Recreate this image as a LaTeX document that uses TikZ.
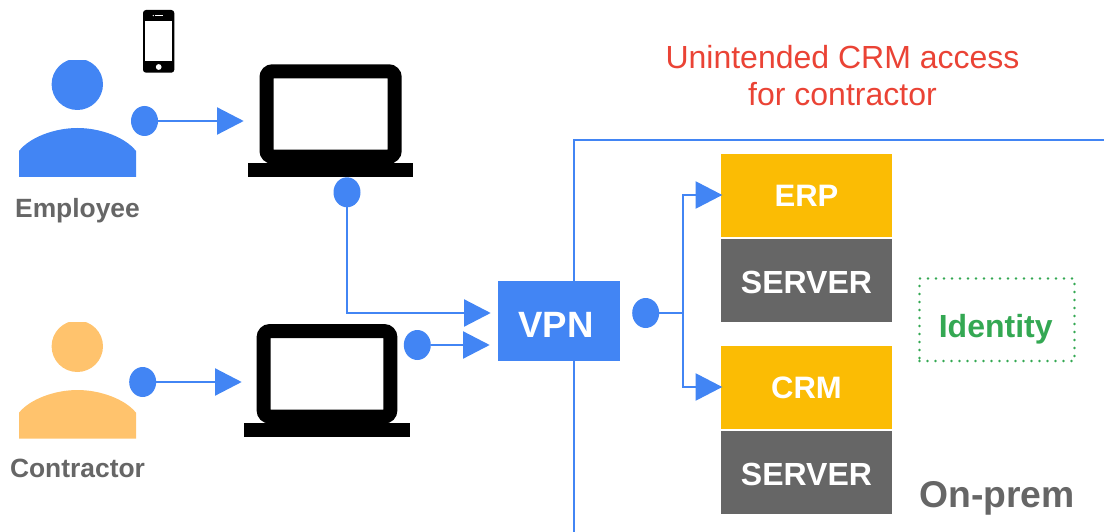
\documentclass[tikz,border=0pt]{standalone}
\usepackage{fontspec}
\setmainfont{Liberation Sans}
\usetikzlibrary{arrows.meta,shapes.geometric}
\definecolor{vpnblue}{HTML}{4285F4}
\definecolor{softorange}{HTML}{FFC36D}
\definecolor{appyellow}{HTML}{FBBC04}
\definecolor{servergray}{HTML}{666666}
\definecolor{alertred}{HTML}{EA4335}
\definecolor{idgreen}{HTML}{34A853}

\begin{document}
\begin{tikzpicture}[
        x=1pt,y=-1pt,
        dot/.style={ellipse,fill=vpnblue,minimum width=27pt,minimum height=30pt,inner sep=0pt},
        link/.style={draw=vpnblue,line width=2pt,-{Triangle[length=26.6pt,width=27pt,fill=vpnblue]}},
        screen/.style={draw=black,line width=14pt,rounded corners=6pt,inner sep=0pt,anchor=center},
        stand/.style={fill=black,inner sep=0pt,minimum height=14pt},
        app/.style={fill=appyellow,minimum width=171pt,minimum height=83pt,inner sep=0pt},
        server/.style={fill=servergray,minimum width=171pt,minimum height=83pt,inner sep=0pt},
        boxtext/.style={text=white,font=\fontsize{32}{32}\selectfont\bfseries,inner sep=0pt},
        who/.style={text=servergray,font=\fontsize{26.4}{26.4}\selectfont\bfseries,inner sep=0pt}
    ]
    \useasboundingbox (0,0) rectangle (1104,532);

    \draw[vpnblue,line width=2pt] (574.2,532) -- (574.2,140.3) -- (1104,140.3);

    \begin{scope}
        \clip (0,61) rectangle (160,180);
        \fill[vpnblue] (77.3,84.3) circle (25.7);
    \end{scope}
    \fill[vpnblue] (19,177) -- (19,151) .. controls (30,137) and (55,128) .. (77.5,128) .. controls (100,128) and (125,137) .. (136,151) -- (136,177) -- cycle;
    \node[who] (employee) at (77.5,211) {Employee};

    \begin{scope}
        \clip (0,322.7) rectangle (160,440);
        \fill[softorange] (77.3,346.3) circle (25.7);
    \end{scope}
    \fill[softorange] (19,438.7) -- (19,412.7) .. controls (30,399) and (55,390) .. (77.5,390) .. controls (100,390) and (125,399) .. (136,412.7) -- (136,438.7) -- cycle;
    \node[who] (contractor) at (77.5,468) {Contractor};

    \fill[black,rounded corners=3pt] (143,10) rectangle (174.3,72.7);
    \fill[white] (145.3,20.7) rectangle (172.4,61.3);
    \fill[white] (158.7,67) circle (2.9);
    \fill[white] (154.5,15) rectangle (162.5,16.3);
    \fill[white] (153.3,15.6) circle (0.7);

    \node[screen,minimum width=128.2pt,minimum height=85.4pt] (laptopa) at (330.6,114) {};
    \node[stand,minimum width=165pt] (standa) at (330.5,170.3) {};
    \node[screen,minimum width=126.6pt,minimum height=85.4pt] (laptopb) at (327,373.8) {};
    \node[stand,minimum width=166pt] (standb) at (327,430.3) {};

    \node[fill=vpnblue,minimum width=122pt,minimum height=79.7pt,inner sep=0pt] (vpn) at (559,320.8) {};
    \node[boxtext,font=\fontsize{36.6}{36.6}\selectfont\bfseries] (vpnlabel) at (556,325) {VPN};

    \node[app] (erp) at (806.5,195.5) {};
    \node[boxtext,font=\fontsize{31}{31}\selectfont\bfseries] (erplabel) at (806.5,195.5) {ERP};
    \node[server] (servera) at (806.5,280.5) {};
    \node[boxtext] (serveralabel) at (806.5,282.5) {SERVER};
    \node[app] (crm) at (806.5,387.5) {};
    \node[boxtext,font=\fontsize{31}{31}\selectfont\bfseries] (crmlabel) at (806.5,387.5) {CRM};
    \node[server] (serverb) at (806.5,472.5) {};
    \node[boxtext] (serverblabel) at (806.5,474) {SERVER};

    \node[draw=idgreen,line width=2.8pt,line cap=round,dash pattern=on 0pt off 8pt,minimum width=155pt,minimum height=82.5pt,inner sep=0pt] (identity) at (997,319.7) {};
    \node[text=idgreen,font=\fontsize{32}{32}\selectfont\bfseries,inner sep=0pt] (identitylabel) at (995.7,329) {Identity};
    \node[text=servergray,font=\fontsize{37.3}{37.3}\selectfont\bfseries,inner sep=0pt] (onprem) at (997,498) {On-prem};
    \node[text=alertred,font=\fontsize{32}{37}\selectfont,align=center,inner sep=0pt] (unintended) at (842.5,76) {Unintended CRM access\\for contractor};

    \node[dot] (employeedot) at (144.5,121) {};
    \node[dot] (contractordot) at (142.7,382) {};
    \node[dot] (laptopadot) at (347,192.3) {};
    \node[dot] (laptopbdot) at (417.3,345) {};
    \node[dot] (vpndot) at (645.7,313) {};

    \coordinate (laptopatip) at (243.7,121);
    \coordinate (laptopbtip) at (241.7,382);
    \coordinate (vpntipa) at (490.7,313);
    \coordinate (vpntipb) at (489.7,345);
    \coordinate (vpnjoin) at (683.3,313);
    \coordinate (erptip) at (722.3,195);
    \coordinate (crmtip) at (722.3,387);

    \draw[link] (employeedot) -- (laptopatip);
    \draw[link] (contractordot) -- (laptopbtip);
    \draw[link] (laptopadot) |- (vpntipa);
    \draw[link] (laptopbdot) -- (vpntipb);
    \draw[link] (vpndot) -- (vpnjoin) |- (erptip);
    \draw[link] (vpndot) -- (vpnjoin) |- (crmtip);
\end{tikzpicture}
\end{document}
